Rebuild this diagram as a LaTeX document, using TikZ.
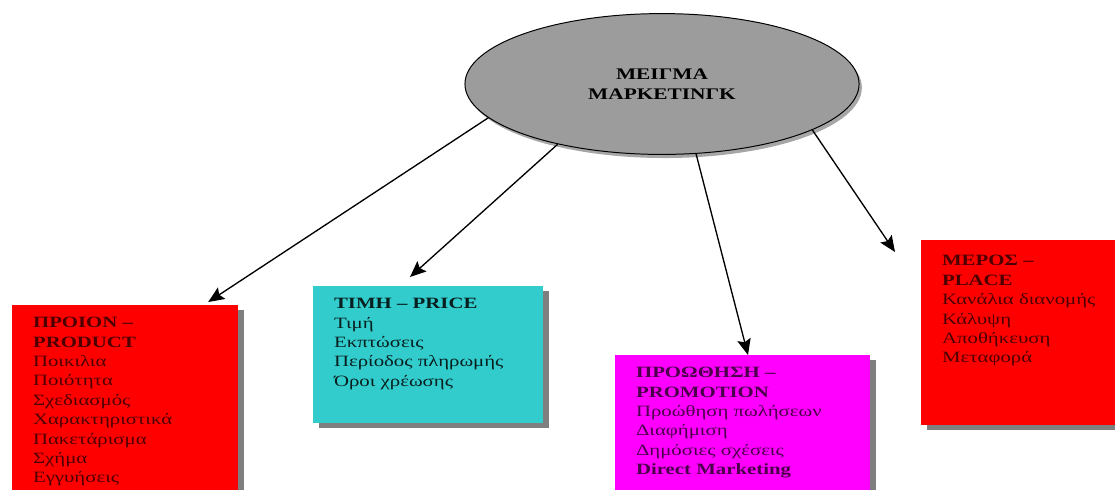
\documentclass[tikz,border=0pt]{standalone}
\usepackage{fontspec}
\setmainfont{Liberation Serif}[FakeStretch=1.32]
\usetikzlibrary{arrows.meta,shadows,shapes.geometric}
\definecolor{boxred}{HTML}{FF0000}
\definecolor{boxcyan}{HTML}{33CCCC}
\definecolor{boxmagenta}{HTML}{FF00FF}
\definecolor{ellgray}{HTML}{9C9C9C}
\definecolor{shadegray}{HTML}{7F7F7F}

\begin{document}
\begin{tikzpicture}[x=0.025cm,y=-0.025cm,
 mix/.style={ellipse,draw=black,line width=0.7pt,fill=ellgray,minimum width=9.85cm,minimum height=3.52cm,inner sep=0pt,align=center,font=\fontsize{11.5}{14.4}\selectfont\bfseries,drop shadow={shadow xshift=0.07cm,shadow yshift=-0.09cm,fill=black!35,opacity=1}},
 part/.style={anchor=north west,align=left,inner xsep=0.52cm,inner ysep=0.3cm,font=\fontsize{11.2}{13.8}\selectfont,drop shadow={shadow xshift=0.14cm,shadow yshift=-0.13cm,fill=shadegray,opacity=1}},
 a/.style={-{Stealth[length=4mm,width=3.4mm,inset=0.7mm]},line width=0.95pt,black}]
\useasboundingbox (0,0) rectangle (1115,489);

\node[mix] (mix) at (662,84) {ΜΕΙΓΜΑ\\ΜΑΡΚΕΤΙΝΓΚ};

\node[part,fill=boxred,text=red!30!black,text width=4.6cm,text depth=6cm] (prod) at (12,305)
{\textbf{ΠΡΟΙΟΝ –}\\\textbf{PRODUCT}\\Ποικιλια\\Ποιότητα\\Σχεδιασμός\\Χαρακτηριστικά\\Πακετάρισμα\\Σχήμα\\Εγγυήσεις};
\node[part,fill=boxcyan,text=boxcyan!15!black,text width=4.7cm,text depth=2.55cm] (price) at (313,286)
{\textbf{ΤΙΜΗ – PRICE}\\Τιμή\\Εκπτώσεις\\Περίοδος πληρωμής\\Όροι χρέωσης};
\node[part,fill=boxmagenta,text=boxmagenta!30!black,text width=5.33cm,text depth=5cm] (promo) at (615,355)
{\textbf{ΠΡΟΩΘΗΣΗ –}\\\textbf{PROMOTION}\\Προώθηση πωλήσεων\\Διαφήμιση\\Δημόσιες σχέσεις\\\textbf{Direct Marketing}};
\node[part,fill=boxred,text=red!30!black,text width=4.4cm,text depth=3.6cm,inner ysep=0.38cm] (place) at (921,240)
{\textbf{ΜΕΡΟΣ –}\\\textbf{PLACE}\\Κανάλια διανομής\\Κάλυψη\\Αποθήκευση\\Μεταφορά};

\draw[a] (mix.191)--([shift={(-30,-3)}]prod.north east);
\draw[a] (mix.210)--([shift={(97,-9)}]price.north west);
\draw[a] (mix.296)--([shift={(133,0)}]promo.north west);
\draw[a] (mix.343)--([shift={(-26,12)}]place.north west);
\end{tikzpicture}
\end{document}
